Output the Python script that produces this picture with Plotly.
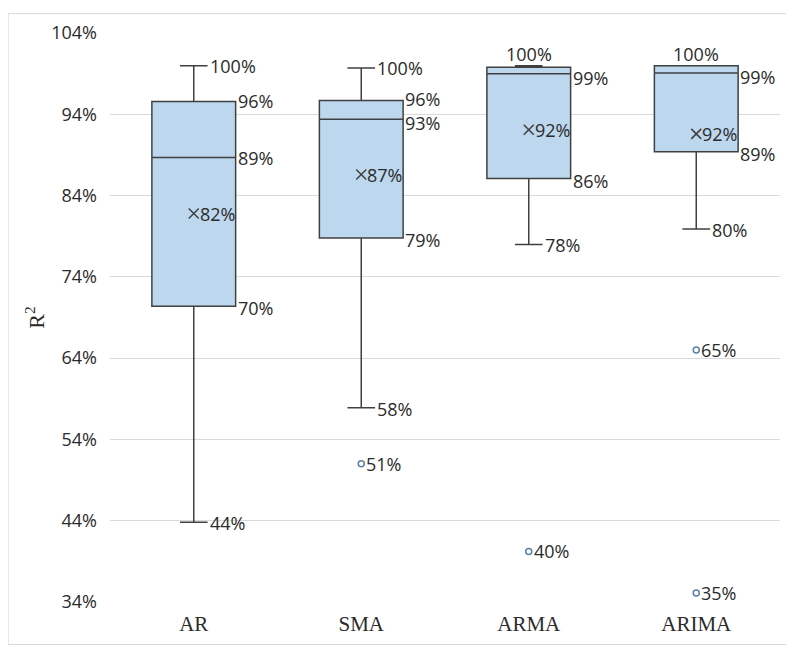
import plotly.graph_objects as go

categories = ["AR", "SMA", "ARMA", "ARIMA"]
lower_fence = [43.8, 57.9, 78.0, 79.9]
q1 = [70.4, 78.8, 86.1, 89.4]
median = [88.7, 93.4, 99.0, 99.1]
q3 = [95.6, 95.7, 99.8, 100.0]
upper_fence = [100.0, 99.7, 100.0, 100.0]
mean = [81.8, 86.6, 92.1, 91.6]
outliers = [[], [51.0], [40.2], [65.0, 35.1]]
y_ticks = [34, 44, 54, 64, 74, 84, 94, 104]

BOX_W = 0.5
CAP_FRAC = 0.33
LINE_C = "#404040"
TXT_C = "#2b2b2b"
LBL_FONT = dict(family="Open Sans", size=18, color=TXT_C)

fig = go.Figure()
fig.add_trace(go.Box(
    x=categories, q1=q1, median=median, q3=q3,
    lowerfence=lower_fence, upperfence=upper_fence,
    width=BOX_W, whiskerwidth=CAP_FRAC,
    fillcolor="#BDD7EE", line=dict(color=LINE_C, width=1.5),
    boxpoints=False, showlegend=False, hoverinfo="skip",
))

# mean markers
fig.add_trace(go.Scatter(
    x=categories, y=mean, mode="markers",
    marker=dict(symbol="x-thin", size=10, line=dict(color=LINE_C, width=1.5)),
    showlegend=False, hoverinfo="skip",
))

# outliers
ox, oy = [], []
for c, vals in zip(categories, outliers):
    for v in vals:
        ox.append(c)
        oy.append(v)
fig.add_trace(go.Scatter(
    x=ox, y=oy, mode="markers",
    marker=dict(symbol="circle", size=6, color="white",
                line=dict(color="#5B7FA6", width=1.5)),
    showlegend=False, hoverinfo="skip",
))

def lbl(v):
    return f"{round(v)}%"

ann = []
box_r = BOX_W / 2
cap_r = BOX_W / 2 * CAP_FRAC
top_above = [False, False, True, True]
show_q3 = [True, True, False, False]
for i in range(len(categories)):
    close = (q3[i] - median[i]) < 3
    if top_above[i]:
        ann.append(dict(x=i, y=max(upper_fence[i], q3[i]), text=lbl(upper_fence[i]),
                        xanchor="center", yanchor="bottom", yshift=-2))
    else:
        ann.append(dict(x=i + cap_r, y=upper_fence[i], text=lbl(upper_fence[i]),
                        xanchor="left", yanchor="middle"))
    if show_q3[i]:
        ann.append(dict(x=i + box_r, y=q3[i], text=lbl(q3[i]),
                        xanchor="left", yanchor="middle", yshift=2 if close else 0))
    ann.append(dict(x=i + box_r, y=median[i], text=lbl(median[i]),
                    xanchor="left", yanchor="middle", yshift=-4 if close else -1))
    ann.append(dict(x=i, y=mean[i], text=lbl(mean[i]),
                    xanchor="left", yanchor="middle", xshift=4))
    ann.append(dict(x=i + box_r, y=q1[i], text=lbl(q1[i]),
                    xanchor="left", yanchor="middle", yshift=-2))
    ann.append(dict(x=i + cap_r, y=lower_fence[i], text=lbl(lower_fence[i]),
                    xanchor="left", yanchor="middle", yshift=-1))
    for v in outliers[i]:
        ann.append(dict(x=i, y=v, text=lbl(v), xanchor="left",
                        yanchor="middle", xshift=3))

for a in ann:
    a.update(xref="x", yref="y", showarrow=False, font=LBL_FONT)

fig.update_layout(
    width=786, height=640,
    margin=dict(l=102, r=14, t=20, b=44),
    paper_bgcolor="white", plot_bgcolor="white",
    annotations=ann,
    shapes=[dict(type="rect", xref="paper", yref="paper",
                 x0=-0.152, x1=1.015, y0=-0.0747, y1=1.034,
                 line=dict(color="#D9D9D9", width=1), layer="below")],
)
fig.update_xaxes(
    type="category", range=[-0.5, 3.5], showgrid=False, zeroline=False,
    showline=False, ticks="",
    tickfont=dict(family="Liberation Serif", size=21, color=TXT_C),
    ticklabelstandoff=7,
)
fig.update_yaxes(
    range=[33.98, 104.02], tickvals=y_ticks, ticktext=[f"{t}%" for t in y_ticks],
    showgrid=True, gridcolor="#D9D9D9", gridwidth=1, zeroline=False,
    showline=False, ticks="",
    tickfont=dict(family="Open Sans", size=18, color=TXT_C),
    ticklabelstandoff=12,
    title=dict(text="R<sup>2</sup>", font=dict(family="Liberation Serif", size=22, color=TXT_C),
               standoff=0),
)

fig.write_html("out.html")
